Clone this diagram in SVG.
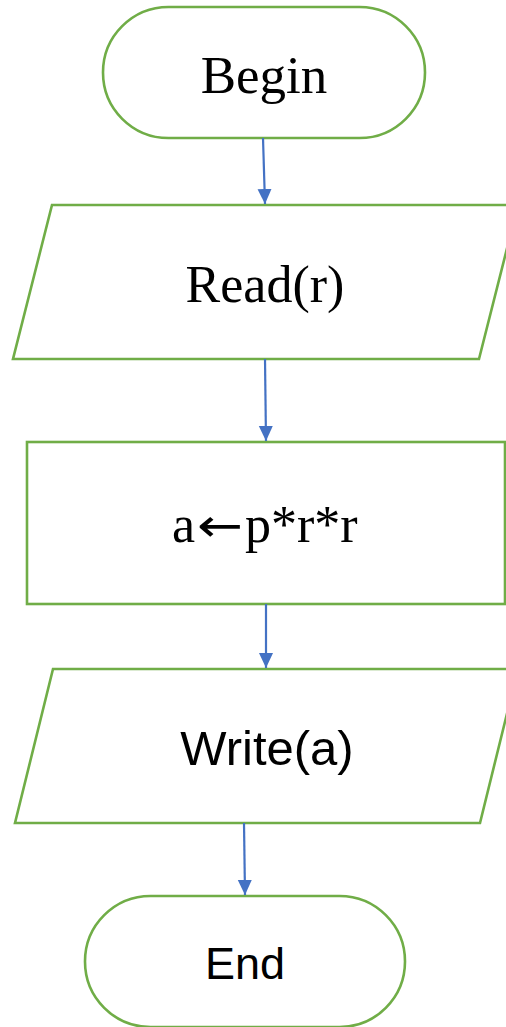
<svg xmlns="http://www.w3.org/2000/svg" width="506" height="1027" viewBox="0 0 506 1027">
  <style>
    .shape { fill: #FFFFFF; stroke: #70AD47; stroke-width: 2.6; }
    .serif { font-family: "Liberation Serif", "Times New Roman", serif; fill: #000000; }
    .sans { font-family: "Liberation Sans", Arial, sans-serif; fill: #000000; }
    .mid { text-anchor: middle; }
    .end { text-anchor: end; }
    .start { text-anchor: start; }
    .glyph-arrow { font-family: "DejaVu Sans", sans-serif; fill: #000000; text-anchor: start; }
    .edge { fill: none; stroke: #4472C4; stroke-width: 2.2; }
  </style>
  <defs>
    <marker id="arrow" markerUnits="userSpaceOnUse" markerWidth="16" markerHeight="16" refX="15" refY="7" orient="auto">
      <path d="M0,0 L15,7 L0,14 Z" fill="#4472C4"/>
    </marker>
  </defs>
  <rect width="506" height="1027" fill="#FFFFFF"/>

  <g id="begin">
    <rect class="shape" x="103" y="7" width="322" height="131" rx="65.5" ry="65.5"/>
    <text class="serif mid" x="264" y="93" font-size="53">Begin</text>
  </g>

  <g id="read">
    <polygon class="shape" points="52,205 518,205 479,359 13,359"/>
    <text class="serif mid" x="265" y="302" font-size="52">Read(r)</text>
  </g>

  <g id="assign">
    <rect class="shape" x="27" y="442" width="478" height="162"/>
    <!-- assignment: "a", a stretched left arrow, then "p*r*r" -->
    <text class="serif end" x="195" y="542" font-size="52">a</text>
    <text class="glyph-arrow" x="197" y="541" font-size="46" textLength="46" lengthAdjust="spacingAndGlyphs">←</text>
    <text class="serif start" x="245" y="542" font-size="52">p*r*r</text>
  </g>

  <g id="write">
    <polygon class="shape" points="53,669 518,669 480,823 15,823"/>
    <text class="sans mid" x="267" y="765" font-size="49">Write(a)</text>
  </g>

  <g id="end">
    <rect class="shape" x="85" y="896" width="320" height="131" rx="65.5" ry="65.5"/>
    <text class="sans mid" x="245" y="979" font-size="45">End</text>
  </g>

  <g id="connectors">
    <line class="edge" x1="263" y1="138" x2="265" y2="204" marker-end="url(#arrow)"/>
    <line class="edge" x1="265" y1="359" x2="266" y2="441" marker-end="url(#arrow)"/>
    <line class="edge" x1="266" y1="604" x2="266" y2="668" marker-end="url(#arrow)"/>
    <line class="edge" x1="244" y1="823" x2="245" y2="895" marker-end="url(#arrow)"/>
  </g>
</svg>
